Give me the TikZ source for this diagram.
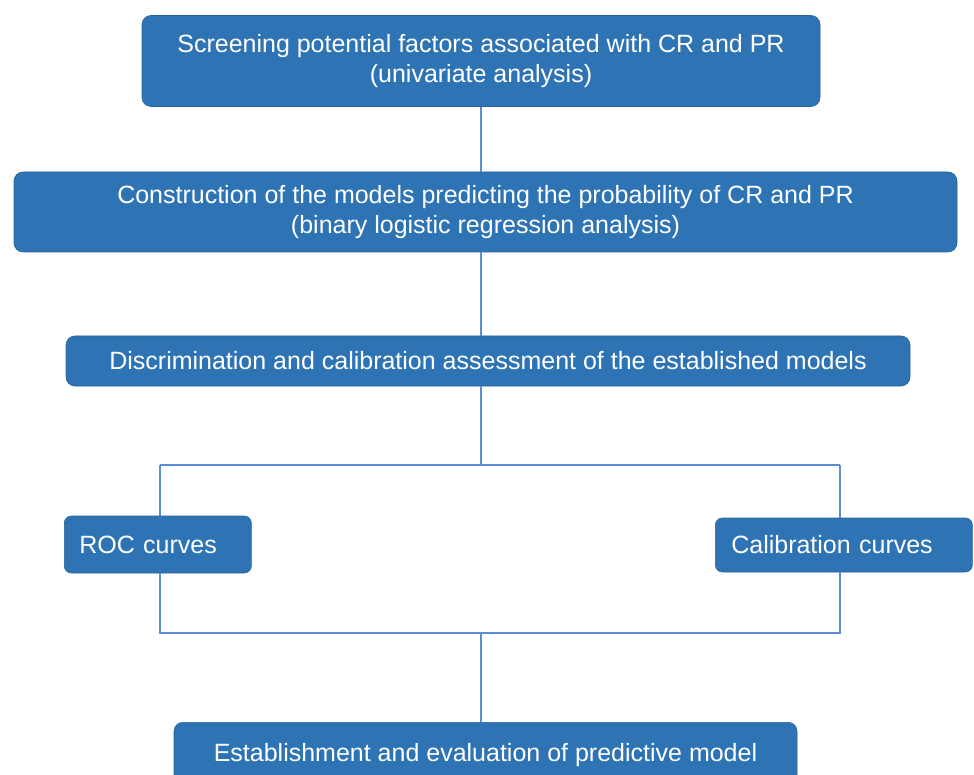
\documentclass[tikz,border=0pt]{standalone}
\usepackage{fontspec}
\setmainfont{Liberation Sans}
\usetikzlibrary{positioning}

\definecolor{boxblue}{HTML}{2E74B5}
\definecolor{linkblue}{HTML}{5B8ED6}

\tikzset{
  stage/.style={fill=boxblue, draw=boxblue!85!black, line width=0.6pt, rounded corners=9pt,
    text=white, font=\fontsize{25}{30}\selectfont, align=center, inner sep=0pt},
  result/.style={stage, rounded corners=7pt, align=left, anchor=west},
  link/.style={draw=linkblue, line width=1.3pt}
}

\begin{document}
\begin{tikzpicture}[x=1pt, y=-1pt]

% page frame
\useasboundingbox (0,0) rectangle (974,775);
\clip (0,0) rectangle (974,775);

% main stages
\node[stage, minimum width=678pt, minimum height=91pt] (screen) at (481,61)
  {Screening potential factors associated with CR and PR\\(univariate  analysis)};
\node[stage, minimum width=943pt, minimum height=80pt] (build) at (485.5,212)
  {Construction  of the models predicting the probability of CR and PR\\(binary  logistic regression analysis)};
\node[stage, minimum width=844pt, minimum height=50pt] (assess) at (488,361)
  {Discrimination and calibration assessment of the  established models};

% the two checks
\node[result, minimum width=187pt, minimum height=57pt, text width=157pt] (roc) at (64,544.5)
  {ROC curves};
\node[result, minimum width=257pt, minimum height=54pt, text width=225pt] (calib) at (715,545)
  {Calibration curves};

% final stage, runs off the bottom edge
\node[stage, minimum width=623pt, minimum height=90pt, anchor=north] (final) at (485.5,722)
  {\raisebox{30pt}{Establishment  and evaluation  of predictive model}};

% split and join points
\coordinate (trunk) at (481,465);
\coordinate (splitL) at (160,465);
\coordinate (splitR) at (840,465);
\coordinate (joinL) at (160,633);
\coordinate (joinR) at (840,633);
\coordinate (joinM) at (481,633);

% connectors
\draw[link] (screen.south -| trunk) -- (build.north -| trunk);
\draw[link] (build.south -| trunk) -- (assess.north -| trunk);
\draw[link] (assess.south -| trunk) -- (trunk);
\draw[link] (splitL) -- (splitR);
\draw[link] (splitL) -- (splitL |- roc.north);
\draw[link] (splitR) -- (splitR |- calib.north);
\draw[link] (splitL |- roc.south) -- (joinL) -- (joinR) -- (splitR |- calib.south);
\draw[link] (joinM) -- (joinM |- final.north);

\end{tikzpicture}
\end{document}
